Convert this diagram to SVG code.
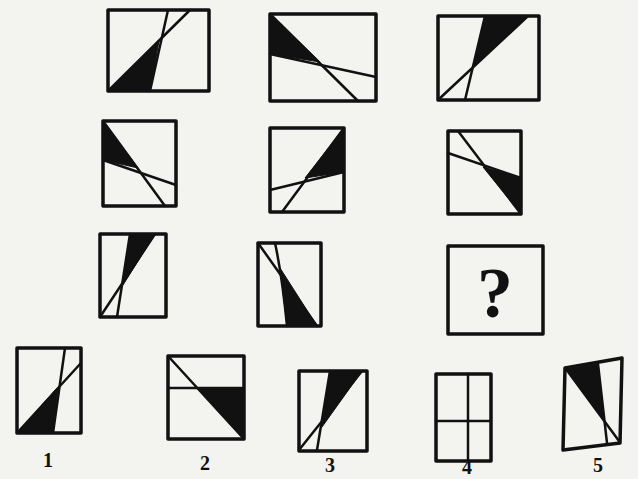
<svg xmlns="http://www.w3.org/2000/svg" width="638" height="479" viewBox="0 0 638 479">
<style>
.bx{fill:none;stroke:#111;stroke-width:3.5;stroke-linejoin:round}
.ln{fill:none;stroke:#111;stroke-width:2.5;stroke-linecap:round}
.bk{fill:#111;stroke:#111;stroke-width:1;stroke-linejoin:round}
.lb{font-family:"Liberation Serif",serif;font-weight:bold;font-size:20px;fill:#111;text-anchor:middle}
</style>
<rect width="638" height="479" fill="#f3f3f0"/>
<g id="p1">
<polygon class="bk" points="108,91 159,41 150,91"/>
<line class="ln" x1="108" y1="91" x2="190" y2="10"/>
<line class="ln" x1="168" y1="10" x2="150" y2="91"/>
<rect class="bx" x="108" y="10" width="101" height="81"/>
</g>
<g id="p2">
<polygon class="bk" points="270,14 270,54 320,62"/>
<line class="ln" x1="270" y1="14" x2="358" y2="101"/>
<line class="ln" x1="270" y1="54" x2="376" y2="77"/>
<rect class="bx" x="270" y="14" width="106" height="87"/>
</g>
<g id="p3">
<polygon class="bk" points="485,16 528,16 473,67"/>
<line class="ln" x1="438" y1="100" x2="528" y2="16"/>
<line class="ln" x1="485" y1="16" x2="465" y2="100"/>
<rect class="bx" x="438" y="16" width="101" height="84"/>
</g>
<g id="p4">
<polygon class="bk" points="103,121 103,160 138,168"/>
<line class="ln" x1="103" y1="121" x2="165" y2="206"/>
<line class="ln" x1="103" y1="160" x2="176" y2="185"/>
<rect class="bx" x="103" y="121" width="73" height="85"/>
</g>
<g id="p5">
<polygon class="bk" points="344,128 344,172 305,178"/>
<line class="ln" x1="282" y1="212" x2="344" y2="128"/>
<line class="ln" x1="270" y1="190" x2="344" y2="172"/>
<rect class="bx" x="270" y="128" width="74" height="84"/>
</g>
<g id="p6">
<polygon class="bk" points="483,167 521,178 521,214"/>
<line class="ln" x1="458" y1="131" x2="521" y2="214"/>
<line class="ln" x1="448" y1="153" x2="521" y2="178"/>
<rect class="bx" x="448" y="131" width="73" height="83"/>
</g>
<g id="p7">
<polygon class="bk" points="130,234 155,234 123,285"/>
<line class="ln" x1="100" y1="317" x2="155" y2="234"/>
<line class="ln" x1="130" y1="234" x2="117" y2="317"/>
<rect class="bx" x="100" y="234" width="66" height="83"/>
</g>
<g id="p8">
<polygon class="bk" points="280,268 287,326 317,326"/>
<line class="ln" x1="258" y1="243" x2="317" y2="326"/>
<path class="ln" d="M275,243 Q282,275 287,326"/>
<rect class="bx" x="258" y="243" width="63" height="83"/>
</g>
<g id="p9">
<rect class="bx" x="448" y="246" width="95" height="88"/>
<text x="495" y="317" font-family="Liberation Serif,serif" font-weight="bold" font-size="72" text-anchor="middle" fill="#111">?</text>
</g>
<g id="o1">
<polygon class="bk" points="17,433 58,387 53,433"/>
<line class="ln" x1="17" y1="433" x2="81" y2="363"/>
<line class="ln" x1="65" y1="348" x2="53" y2="433"/>
<rect class="bx" x="17" y="348" width="64" height="85"/>
<text class="lb" x="48" y="467">1</text>
</g>
<g id="o2">
<polygon class="bk" points="198,388 244,388 244,439"/>
<line class="ln" x1="168" y1="356" x2="244" y2="439"/>
<line class="ln" x1="168" y1="388" x2="244" y2="388"/>
<rect class="bx" x="168" y="356" width="76" height="83"/>
<text class="lb" x="205" y="470">2</text>
</g>
<g id="o3">
<polygon class="bk" points="330,371 362,371 322,427"/>
<line class="ln" x1="299" y1="450" x2="362" y2="371"/>
<line class="ln" x1="330" y1="371" x2="317" y2="450"/>
<rect class="bx" x="299" y="371" width="68" height="80"/>
<text class="lb" x="330" y="472">3</text>
</g>
<g id="o4">
<rect class="bx" x="436" y="374" width="55" height="87"/>
<line class="ln" x1="468" y1="374" x2="468" y2="461"/>
<line class="ln" x1="436" y1="421" x2="491" y2="421"/>
<text class="lb" x="467" y="474" font-size="14">4</text>
</g>
<g id="o5">
<polygon class="bk" points="566,369 598,364 604,421"/>
<line class="ln" x1="566" y1="369" x2="619" y2="441"/>
<line class="ln" x1="598" y1="364" x2="607" y2="443"/>
<polygon class="bx" points="565,368 622,358 620,443 563,450"/>
<text class="lb" x="598" y="472">5</text>
</g>
</svg>
